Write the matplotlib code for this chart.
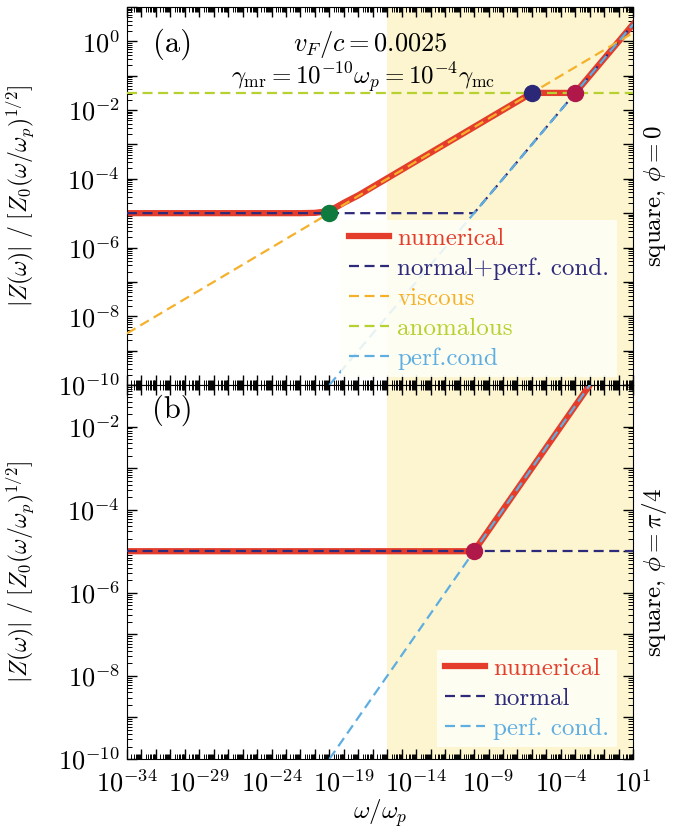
import numpy as np
import matplotlib.pyplot as plt
from matplotlib.ticker import FixedLocator, FuncFormatter, NullFormatter

plt.rcParams['font.family'] = 'serif'
plt.rcParams['font.serif'] = ['cmr10']
plt.rcParams['mathtext.fontset'] = 'cm'
plt.rcParams['axes.formatter.use_mathtext'] = True
plt.rcParams['axes.unicode_minus'] = False

# ---- panel (a): square, phi = 0 ----
w_num_a = [1e-34, 1e-22, 1e-21, 3e-21, 1e-20, 3e-20, 1e-19, 1e-18, 1e-6, 1e-3, 1e1]
z_num_a = [1e-5, 1e-5, 1.02e-5, 1.08e-5, 1.2e-5, 1.5e-5, 2.0e-5, 3.3e-5, 3.16e-2, 3.16e-2, 3.16]

w_norm_a = [1e-34, 1e-10, 1e1]
z_norm_a = [1e-5, 1e-5, 3.16]

w_visc = [1e-34, 1e1]
z_visc = [3.16e-9, 1.78]

w_anom = [1e-34, 1e1]
z_anom = [3.16e-2, 3.16e-2]

w_perf_a = [1e-20, 1e1]
z_perf_a = [1e-10, 3.16]

# crossover points: normal/viscous, viscous/anomalous, anomalous/perf.cond
w_dots_a = [1e-20, 1e-6, 1e-3]
z_dots_a = [1e-5, 3.16e-2, 3.16e-2]

# ---- panel (b): square, phi = pi/4 ----
w_num_b = [1e-34, 1e-10, 1e-1]
z_num_b = [1e-5, 1e-5, 3.16e-1]

w_norm_b = [1e-34, 1e1]
z_norm_b = [1e-5, 1e-5]

w_perf_b = [1e-20, 1e-1]
z_perf_b = [1e-10, 3.16e-1]

w_dot_b = [1e-10]
z_dot_b = [1e-5]

hydro_band = (1e-16, 1e1)

c_num = '#e43d2b'
c_norm = '#2d2a7c'
c_visc = '#f5b12a'
c_anom = '#b6d130'
c_perf = '#5eaee2'
c_band = '#fcf5cf'
dot_colors = ['#0f7a3d', '#2b2878', '#b0184a']

fig = plt.figure(figsize=(6.75, 8.32), dpi=100)
ax1 = fig.add_axes([0.188, 0.5373, 0.75, 0.4543])
ax2 = fig.add_axes([0.188, 0.0877, 0.75, 0.4496])

dash = (0, (4.5, 2.5))
fs = 18
fs_tick = 19


def decade_ticks(lo, hi):
    major = [10.0 ** e for e in range(lo, hi + 1)]
    minor = [k * 10.0 ** e for e in range(lo, hi) for k in range(2, 10)]
    return major, minor


def style_axis(ax, ylim, show_x):
    ax.set_xscale('log')
    ax.set_yscale('log')
    ax.set_xlim(1e-34, 1e1)
    ax.set_ylim(*ylim)
    ax.axvspan(*hydro_band, color=c_band, zorder=0, lw=0)
    xmaj, xmin = decade_ticks(-34, 1)
    ymaj, ymin = decade_ticks(int(np.log10(ylim[0])), int(np.log10(ylim[1])))
    ax.xaxis.set_major_locator(FixedLocator(xmaj))
    ax.xaxis.set_minor_locator(FixedLocator(xmin))
    ax.yaxis.set_major_locator(FixedLocator(ymaj))
    ax.yaxis.set_minor_locator(FixedLocator(ymin))
    ax.xaxis.set_minor_formatter(NullFormatter())
    ax.yaxis.set_minor_formatter(NullFormatter())
    if show_x:
        ax.xaxis.set_major_formatter(FuncFormatter(
            lambda v, p: r'$10^{%d}$' % round(np.log10(v)) if round(np.log10(v)) % 5 == 1 else ''))
    else:
        ax.xaxis.set_major_formatter(NullFormatter())
    ax.yaxis.set_major_formatter(FuncFormatter(
        lambda v, p: r'$10^{%d}$' % round(np.log10(v)) if round(np.log10(v)) % 2 == 0 else ''))
    ax.tick_params(which='both', direction='in', top=True, right=True, labelsize=fs_tick)
    ax.tick_params(which='major', length=7, width=1, pad=5)
    ax.tick_params(axis='x', which='major', pad=8)
    ax.tick_params(which='minor', length=3.5, width=0.7)
    ax.set_ylabel(r'$|Z(\omega)|\ /\ [Z_0(\omega/\omega_p)^{1/2}]$', fontsize=17)
    ax.yaxis.set_label_coords(-0.18, 0.5)


style_axis(ax1, (1e-10, 1e1), False)
style_axis(ax2, (1e-10, 1e-1), True)

leg_kw = dict(loc='lower right', fontsize=fs, labelcolor='linecolor', frameon=True,
              facecolor='#fffff8', framealpha=0.85, edgecolor='none', fancybox=False,
              handlelength=1.6, handletextpad=0.35, labelspacing=0.3,
              borderaxespad=0.0, borderpad=0.3)

# panel (a) curves
ax1.plot(w_num_a, z_num_a, color=c_num, lw=4.5, label='numerical', zorder=2)
ax1.plot(w_norm_a, z_norm_a, color=c_norm, lw=1.6, ls=dash, label='normal+perf. cond.', zorder=3)
ax1.plot(w_visc, z_visc, color=c_visc, lw=1.6, ls=dash, label='viscous', zorder=3)
ax1.plot(w_anom, z_anom, color=c_anom, lw=1.6, ls=dash, label='anomalous', zorder=3)
ax1.plot(w_perf_a, z_perf_a, color=c_perf, lw=1.6, ls=dash, label='perf.cond', zorder=3)
leg1 = ax1.legend(bbox_to_anchor=(0.968, 0.02), **leg_kw)
leg1.set_zorder(5)
for wx, zy, col in zip(w_dots_a, z_dots_a, dot_colors):
    ax1.plot(wx, zy, 'o', color=col, ms=11.5, zorder=6)

ax1.text(0.09, 0.902, '(a)', transform=ax1.transAxes, fontsize=22, ha='center', va='center')
ax1.text(0.48, 0.902, r'$v_F/c = 0.0025$', transform=ax1.transAxes, fontsize=fs + 1,
         ha='center', va='center')
ax1.text(0.467, 0.812, r'$\gamma_{\rm mr} = 10^{-10}\omega_p = 10^{-4}\gamma_{\rm mc}$',
         transform=ax1.transAxes, fontsize=fs, ha='center', va='center')

# panel (b) curves
ax2.plot(w_num_b, z_num_b, color=c_num, lw=4.5, label='numerical', zorder=2)
ax2.plot(w_norm_b, z_norm_b, color=c_norm, lw=1.6, ls=dash, label='normal', zorder=3)
ax2.plot(w_perf_b, z_perf_b, color=c_perf, lw=1.6, ls=dash, label='perf. cond.', zorder=3)
ax2.plot(w_dot_b, z_dot_b, 'o', color=dot_colors[2], ms=11.5, zorder=6)
leg2 = ax2.legend(bbox_to_anchor=(0.968, 0.032), **leg_kw)
leg2.set_zorder(5)
ax2.text(0.09, 0.933, '(b)', transform=ax2.transAxes, fontsize=22, ha='center', va='center')
ax2.set_xlabel(r'$\omega/\omega_p$', fontsize=fs, labelpad=0)

fig.text(0.970, 0.764, r'square, $\phi = 0$', rotation=90, fontsize=fs, ha='center', va='center')
fig.text(0.970, 0.3125, r'square, $\phi = \pi/4$', rotation=90, fontsize=fs, ha='center', va='center')

fig.savefig('out.png', dpi=100)
